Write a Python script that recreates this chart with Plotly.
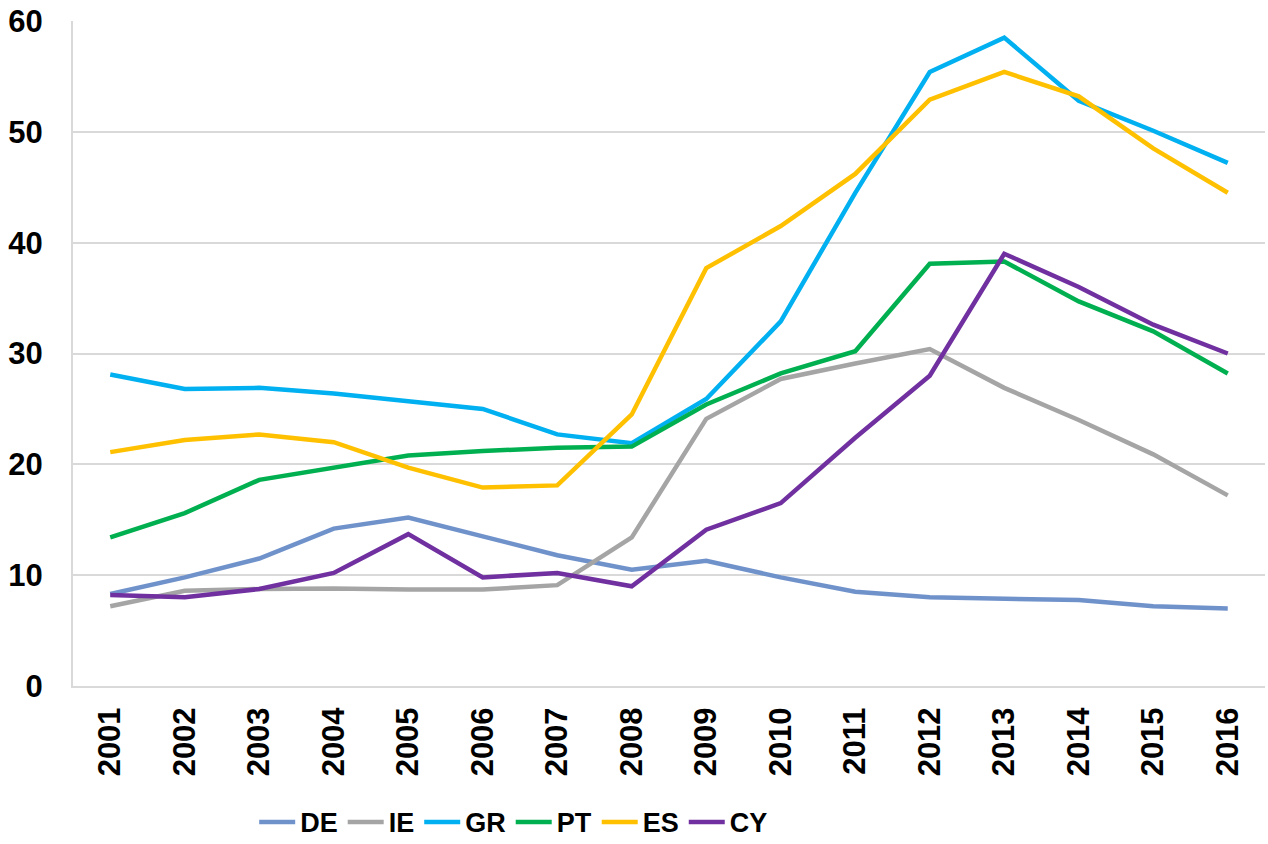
import plotly.graph_objects as go

years = [str(y) for y in range(2001, 2017)]
DE = [8.3, 9.8, 11.5, 14.2, 15.2, 13.5, 11.8, 10.5, 11.3, 9.8, 8.5, 8.0, 7.85, 7.75, 7.2, 7.0]
IE = [7.2, 8.6, 8.75, 8.8, 8.7, 8.7, 9.1, 13.4, 24.1, 27.7, 29.1, 30.4, 26.9, 24.0, 20.9, 17.2]
GR = [28.1, 26.8, 26.9, 26.4, 25.7, 25.0, 22.7, 21.9, 25.9, 32.9, 44.5, 55.4, 58.5, 52.8, 50.1, 47.2]
PT = [13.4, 15.6, 18.6, 19.7, 20.8, 21.2, 21.5, 21.6, 25.4, 28.2, 30.2, 38.1, 38.3, 34.7, 32.0, 28.2]
ES = [21.1, 22.2, 22.7, 22.0, 19.7, 17.9, 18.1, 24.5, 37.7, 41.5, 46.2, 52.9, 55.4, 53.2, 48.5, 44.5]
CY = [8.2, 8.0, 8.75, 10.2, 13.7, 9.8, 10.2, 9.0, 14.1, 16.5, 22.4, 28.0, 39.0, 36.0, 32.6, 30.0]

series = [
    ("DE", DE, "#7092CB"),
    ("IE", IE, "#A5A5A5"),
    ("GR", GR, "#00B0F0"),
    ("PT", PT, "#00B050"),
    ("ES", ES, "#FFC000"),
    ("CY", CY, "#7030A0"),
]

fig = go.Figure()
for name, vals, color in series:
    fig.add_trace(go.Scatter(x=years, y=vals, name=name, mode="lines",
                             line=dict(color=color, width=4.5)))

fig.update_layout(
    width=1268, height=844,
    margin=dict(l=73, r=3, t=21, b=158, autoexpand=False),
    paper_bgcolor="white", plot_bgcolor="white",
    font=dict(family="Liberation Sans, Arial, sans-serif", color="black"),
    showlegend=True,
    legend=dict(orientation="h", x=0.152, xanchor="left", y=-0.205, yanchor="middle",
                font=dict(size=27, family="Liberation Sans, Arial, sans-serif", weight="bold"),
                itemwidth=36, tracegroupgap=0),
)
fig.update_xaxes(type="category", range=[-0.5, 15.5], showgrid=False, automargin=False,
                 showline=True, linecolor="#D9D9D9", linewidth=2,
                 tickangle=-90, ticks="", ticklabelstandoff=7,
                 tickfont=dict(size=31, weight="bold"))
fig.update_yaxes(range=[0, 60], dtick=10, showgrid=True, gridcolor="#D9D9D9", gridwidth=1.5,
                 showline=True, linecolor="#D9D9D9", linewidth=2, zeroline=False, automargin=False,
                 ticks="", ticklabelstandoff=22,
                 tickfont=dict(size=31, weight="bold"))

fig.write_html("out.html", config={"displayModeBar": False},
               post_script="document.body.style.margin='0';document.body.style.overflow='hidden';")
